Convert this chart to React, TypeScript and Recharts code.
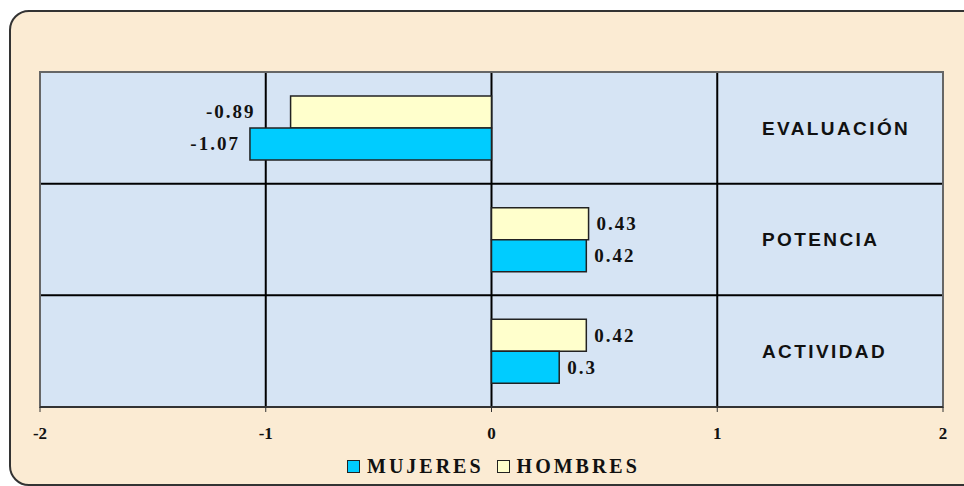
import React from "react";
import { BarChart, Bar, XAxis, YAxis, CartesianGrid, LabelList, ReferenceArea } from "recharts";

const categories = ["EVALUACIÓN", "POTENCIA", "ACTIVIDAD"];
const hombres = [-0.89, 0.43, 0.42];
const mujeres = [-1.07, 0.42, 0.3];
const xTicks = [-2, -1, 0, 1, 2];

const data = categories.map((name, i) => ({ name, hombres: hombres[i], mujeres: mujeres[i] }));

const serif = "'Liberation Serif', 'Times New Roman', serif";
const sans = "'Liberation Sans', Arial, sans-serif";

const valueLabel = (negOffset: number) => (props: any) => {
    const vb = props.viewBox ?? props;
    const x = vb.x ?? props.x;
    const y = vb.y ?? props.y;
    const w = vb.width ?? props.width;
    const h = vb.height ?? props.height;
    const v = Number(props.value);
    const left = Math.min(x, x + w);
    const right = Math.max(x, x + w);
    const neg = v < 0;
    return (
        <text
            x={neg ? left - negOffset : right + 8}
            y={y + h / 2}
            dy="0.34em"
            textAnchor={neg ? "end" : "start"}
            fontFamily={serif}
            fontWeight="bold"
            fontSize={19}
            letterSpacing={2}
            fill="#111"
        >
            {String(v)}
        </text>
    );
};

const CategoryTick = (props: any) => {
    const { y, payload } = props;
    return (
        <text x={762} y={y} dy="0.36em" textAnchor="start" fontFamily={sans} fontWeight="bold" fontSize={19} letterSpacing={2.4} fill="#111">
            {payload.value}
        </text>
    );
};

const legendItems = [
    { label: "MUJERES", color: "#00CCFF" },
    { label: "HOMBRES", color: "#FFFFCC" },
];

const LegendBox = () => (
    <div
        style={{
            position: "absolute",
            left: 347,
            top: 451,
            display: "flex",
            alignItems: "center",
            fontFamily: serif,
            fontWeight: "bold",
            fontSize: 20,
            letterSpacing: 3,
            color: "#111",
            lineHeight: "30px",
        }}
    >
        {legendItems.map((it) => (
            <div key={it.label} style={{ display: "flex", alignItems: "center", marginRight: 13 }}>
                <span style={{ width: 11, height: 11, border: "1.5px solid #222", background: it.color, display: "inline-block", marginRight: 7 }} />
                <span>{it.label}</span>
            </div>
        ))}
    </div>
);

export default function App() {
    return (
        <div style={{ position: "absolute", left: 0, top: 0, width: 964, height: 486, overflow: "hidden", background: "#fff" }}>
            <div
                style={{
                    position: "absolute",
                    left: 9,
                    top: 10,
                    width: 975,
                    height: 472,
                    border: "2px solid #333",
                    borderRadius: 20,
                    background: "#FBEBD3",
                }}
            />
            <div style={{ position: "absolute", left: 0, top: 0 }}>
                <BarChart
                    width={964}
                    height={486}
                    data={data}
                    layout="vertical"
                    margin={{ top: 72, right: 21, left: 39, bottom: 49 }}
                    barSize={32}
                    barGap={0}
                >
                    <CartesianGrid
                        stroke="#000"
                        strokeWidth={2}
                        fill="#D6E4F4"
                        fillOpacity={1}
                        horizontalCoordinatesGenerator={({ offset }: any) => [
                            offset.top + offset.height / 3,
                            offset.top + (2 * offset.height) / 3,
                        ]}
                    />
                    <ReferenceArea x1={-2} x2={2} fill="none" stroke="#666" strokeWidth={2} />
                    <XAxis
                        type="number"
                        domain={[-2, 2]}
                        ticks={xTicks}
                        height={30}
                        axisLine={{ stroke: "#333", strokeWidth: 2 }}
                        tickLine={{ stroke: "#333" }}
                        tickSize={5}
                        tickMargin={15}
                        tick={{ fontFamily: serif, fontWeight: "bold", fontSize: 17, fill: "#111" }}
                    />
                    <YAxis
                        type="category"
                        dataKey="name"
                        width={1}
                        axisLine={false}
                        tickLine={false}
                        interval={0}
                        tick={(p: any) => <CategoryTick {...p} />}
                    />
                    <Bar dataKey="hombres" name="HOMBRES" fill="#FFFFCC" stroke="#222" strokeWidth={1.5} isAnimationActive={false}>
                        <LabelList dataKey="hombres" content={valueLabel(35)} />
                    </Bar>
                    <Bar dataKey="mujeres" name="MUJERES" fill="#00CCFF" stroke="#222" strokeWidth={1.5} isAnimationActive={false}>
                        <LabelList dataKey="mujeres" content={valueLabel(10)} />
                    </Bar>
                </BarChart>
            </div>
            <LegendBox />
        </div>
    );
}
